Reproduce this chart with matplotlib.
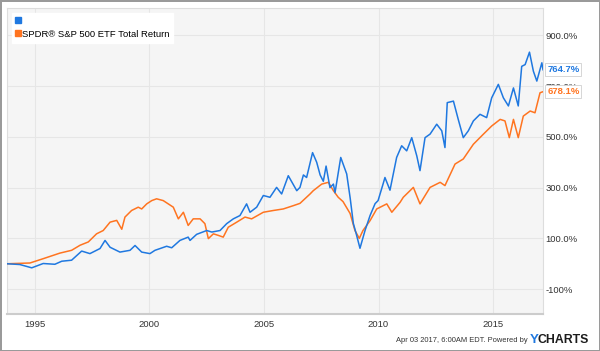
import matplotlib
matplotlib.use('Agg')
from matplotlib import pyplot as plt
from matplotlib.lines import Line2D

# decimal years and total return (%)
fund_years = [1993.78, 1994.34, 1994.86, 1995.36, 1995.87, 1996.17, 1996.60, 1997.04, 1997.40,
              1997.84, 1998.06, 1998.28, 1998.71, 1999.15, 1999.37, 1999.66, 2000.02, 2000.24,
              2000.75, 2000.97, 2001.33, 2001.69, 2001.77, 2002.06, 2002.50, 2002.72, 2003.08,
              2003.37, 2003.66, 2003.95, 2004.24, 2004.39, 2004.68, 2004.97, 2005.26, 2005.55,
              2005.77, 2006.06, 2006.43, 2006.57, 2006.72, 2006.86, 2007.12, 2007.30, 2007.45,
              2007.59, 2007.71, 2007.88, 2008.03, 2008.10, 2008.35, 2008.61, 2008.76, 2008.90,
              2009.02, 2009.19, 2009.41, 2009.63, 2009.85, 2009.98, 2010.20, 2010.28, 2010.50,
              2010.79, 2011.01, 2011.23, 2011.45, 2011.67, 2011.81, 2012.03, 2012.25, 2012.54,
              2012.76, 2012.90, 2013.00, 2013.27, 2013.48, 2013.70, 2013.92, 2014.14, 2014.43,
              2014.72, 2014.94, 2015.23, 2015.45, 2015.67, 2015.89, 2016.10, 2016.25, 2016.40,
              2016.59, 2016.76, 2016.91, 2017.13, 2017.18]
fund_vals = [0, -3, -16, 1, -2, 10, 14, 50, 40,
             60, 92, 65, 46, 53, 72, 46, 40, 53,
             69, 63, 92, 105, 92, 116, 131, 125, 131,
             158, 177, 190, 236, 203, 223, 269, 262, 301,
             275, 347, 288, 301, 350, 340, 438, 400, 350,
             325, 385, 300, 314, 280, 419, 354, 260, 159,
             120, 61, 131, 190, 237, 249, 315, 340, 290,
             419, 465, 445, 497, 425, 367, 497, 511, 550,
             524, 458, 635, 641, 569, 497, 524, 563, 589,
             576, 654, 707, 654, 622, 693, 622, 778, 785,
             834, 759, 720, 792, 764.7]

spy_years = [1993.78, 1994.78, 1995.36, 1996.09, 1996.60, 1996.97, 1997.33, 1997.69, 1997.98,
             1998.28, 1998.57, 1998.79, 1998.93, 1999.22, 1999.51, 1999.66, 1999.88, 2000.10,
             2000.31, 2000.60, 2000.82, 2001.04, 2001.26, 2001.48, 2001.69, 2001.91, 2002.21,
             2002.42, 2002.57, 2002.79, 2003.00, 2003.22, 2003.44, 2003.81, 2004.17, 2004.46,
             2004.97, 2005.41, 2005.84, 2006.28, 2006.57, 2007.01, 2007.15, 2007.52, 2007.81,
             2008.03, 2008.24, 2008.45, 2008.76, 2008.97, 2009.16, 2009.32, 2009.63, 2009.92,
             2010.36, 2010.58, 2010.94, 2011.08, 2011.52, 2011.81, 2012.25, 2012.69, 2012.90,
             2013.34, 2013.70, 2014.14, 2014.58, 2014.94, 2015.31, 2015.52, 2015.71, 2015.89,
             2016.10, 2016.32, 2016.62, 2016.83, 2017.05, 2017.18]
spy_vals = [0, 3, 20, 42, 53, 73, 86, 118, 131,
            164, 171, 136, 184, 210, 223, 216, 236, 249,
            256, 249, 236, 223, 177, 203, 151, 177, 177,
            158, 99, 118, 112, 105, 144, 164, 184, 177,
            203, 210, 216, 229, 238, 275, 288, 314, 321,
            288, 262, 245, 198, 131, 100, 131, 170, 216,
            236, 203, 242, 262, 301, 236, 301, 321, 308,
            393, 413, 471, 511, 543, 569, 563, 497, 569,
            497, 582, 602, 595, 674, 678.1]

fund_label = ""
spy_label = "SPDR\u00ae S&P 500 ETF Total Return"
x_ticks = [1995, 2000, 2005, 2010, 2015]
y_ticks = [-100, 100, 300, 500, 700, 900]
y_tick_labels = ["-100%", "100.0%", "300.0%", "500.0%", "700.0%", "900.0%"]

blue = '#1f78e0'
orange = '#ff7420'

plt.rcParams['font.family'] = ['Liberation Sans', 'DejaVu Sans']

fig = plt.figure(figsize=(6, 3.51), dpi=100)
fig.patch.set_edgecolor('#9a9a9a')
fig.patch.set_linewidth(2)
ax = fig.add_axes([7 / 600, 1 - 314 / 351, 536 / 600, 306 / 351])
ax.set_facecolor('#f5f5f5')

ax.plot(spy_years, spy_vals, color=orange, lw=1.1, zorder=3)
ax.plot(fund_years, fund_vals, color=blue, lw=1.1, zorder=4)

ax.set_xlim(fund_years[0], fund_years[-1])
ax.set_ylim(-198, 1008)
ax.set_xticks(x_ticks)
ax.set_xticklabels([str(t) for t in x_ticks])
ax.set_yticks(y_ticks)
ax.set_yticklabels(y_tick_labels)
ax.yaxis.tick_right()
ax.tick_params(axis='both', length=0, labelsize=6.8, colors='#333333')
ax.tick_params(axis='x', pad=4)
ax.tick_params(axis='y', pad=2)
ax.grid(True, color='#e6e6e6', lw=0.8)
ax.set_axisbelow(True)
for side in ['top', 'left', 'right']:
    ax.spines[side].set_color('#dddddd')
ax.spines['bottom'].set_color('#cccccc')
ax.spines['bottom'].set_linewidth(1.5)

handles = [Line2D([], [], marker='s', ls='', color=blue, markersize=5),
           Line2D([], [], marker='s', ls='', color=orange, markersize=5)]
leg = ax.legend(handles, [fund_label, spy_label], loc='upper left', fontsize=6.8,
                frameon=True, fancybox=False, handlelength=0.6, handletextpad=0.1,
                borderpad=0.4, labelspacing=0.45, borderaxespad=0.5,
                bbox_to_anchor=(0.0, 1.0))
leg.get_frame().set_facecolor('white')
leg.get_frame().set_edgecolor('white')
leg.get_frame().set_alpha(1)

# end value tags (they sit over the 700.0% label, as in the original)
for val, col in [(fund_vals[-1], blue), (spy_vals[-1], orange)]:
    ax.annotate(f"{val:.1f}%", xy=(1.0, val), xycoords=('axes fraction', 'data'),
                xytext=(3, 0), textcoords='offset points', ha='left', va='center',
                fontsize=6.8, fontweight='bold', color=col, zorder=10,
                bbox=dict(boxstyle='square,pad=0.2', fc='white', ec='#d0d0d0', lw=0.6),
                annotation_clip=False)

fig.text(528 / 600, 1 - 340 / 351, "Apr 03 2017, 6:00AM EDT. Powered by", ha='right',
         va='center', fontsize=5.4, color='#333333')
fig.text(530 / 600, 1 - 340 / 351, "Y", ha='left', va='center', fontsize=9.5,
         fontweight='bold', color='#1f78e0')
fig.text(537.5 / 600, 1 - 340 / 351, "CHARTS", ha='left', va='center', fontsize=8.8,
         fontweight='bold', color='#1c1c1c')

fig.savefig('out.png', dpi=100)
